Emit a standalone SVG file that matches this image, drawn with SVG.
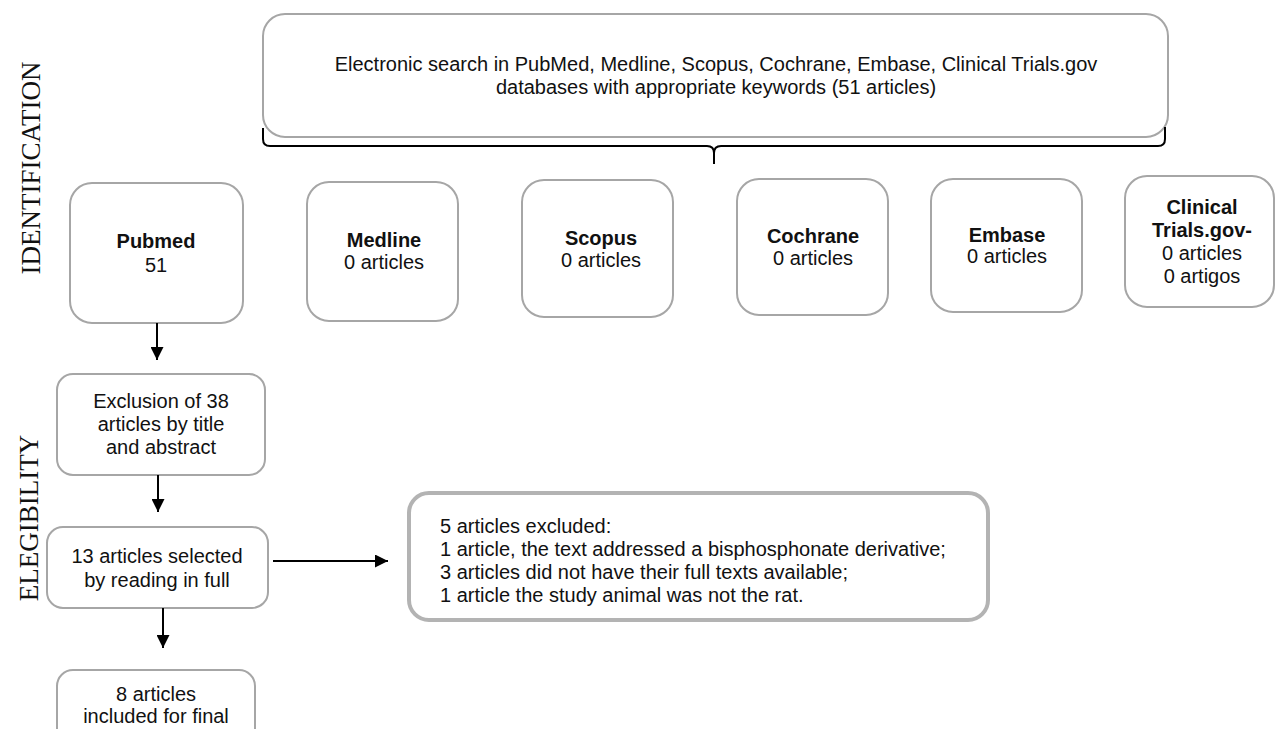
<svg xmlns="http://www.w3.org/2000/svg" width="1276" height="729" viewBox="0 0 1276 729">
<defs>
<style>
.box{fill:#fff;stroke:#a6a6a6;stroke-width:2}
.box2{fill:#fff;stroke:#b3b3b3;stroke-width:4}
.t{font-family:"Liberation Sans",Arial,sans-serif;font-size:20px;fill:#111;text-anchor:middle}
.tl{font-family:"Liberation Sans",Arial,sans-serif;font-size:20px;fill:#111}
.b{font-weight:bold}
.side{font-family:"Liberation Serif","Times New Roman",serif;font-size:27px;fill:#111;text-anchor:middle}
.conn{stroke:#000;stroke-width:2;fill:none}
</style>
<marker id="ah" viewBox="0 0 10 10" refX="10" refY="5" markerWidth="6.5" markerHeight="6.5" markerUnits="strokeWidth" orient="auto">
<path d="M0,0 L10,5 L0,10 z" fill="#000"/>
</marker>
</defs>
<rect width="1276" height="729" fill="#fff"/>

<text class="side" transform="translate(40,168) rotate(-90)">IDENTIFICATION</text>
<text class="side" transform="translate(38,518) rotate(-90)">ELEGIBILITY</text>

<g id="search">
<rect class="box" x="263" y="14" width="905" height="123" rx="22"/>
<text class="t" x="716" y="71">Electronic search in PubMed, Medline, Scopus, Cochrane, Embase, Clinical Trials.gov</text>
<text class="t" x="716" y="94">databases with appropriate keywords (51 articles)</text>
</g>

<g id="pubmed">
<rect class="box" x="70" y="183" width="173" height="140" rx="22"/>
<text class="t b" x="156" y="248">Pubmed</text>
<text class="t" x="156" y="272">51</text>
</g>
<g id="medline">
<rect class="box" x="307" y="182" width="151" height="139" rx="22"/>
<text class="t b" x="384" y="247">Medline</text>
<text class="t" x="384" y="269">0 articles</text>
</g>
<g id="scopus">
<rect class="box" x="522" y="180" width="151" height="137" rx="22"/>
<text class="t b" x="601" y="245">Scopus</text>
<text class="t" x="601" y="267">0 articles</text>
</g>
<g id="cochrane">
<rect class="box" x="737" y="179" width="151" height="136" rx="22"/>
<text class="t b" x="813" y="243">Cochrane</text>
<text class="t" x="813" y="265">0 articles</text>
</g>
<g id="embase">
<rect class="box" x="931" y="179" width="151" height="133" rx="22"/>
<text class="t b" x="1007" y="242">Embase</text>
<text class="t" x="1007" y="263">0 articles</text>
</g>
<g id="clinical">
<rect class="box" x="1125" y="176" width="149" height="131" rx="22"/>
<text class="t b" x="1202" y="214">Clinical</text>
<text class="t b" x="1202" y="237">Trials.gov-</text>
<text class="t" x="1202" y="260">0 articles</text>
<text class="t" x="1202" y="283">0 artigos</text>
</g>

<g id="exclusion">
<rect class="box" x="57" y="374" width="208" height="101" rx="16"/>
<text class="t" x="161" y="408">Exclusion of 38</text>
<text class="t" x="161" y="431">articles by title</text>
<text class="t" x="161" y="454">and abstract</text>
</g>
<g id="selected">
<rect class="box" x="47" y="527" width="221" height="81" rx="16"/>
<text class="t" x="157" y="563">13 articles selected</text>
<text class="t" x="157" y="587">by reading in full</text>
</g>
<g id="excluded5">
<rect class="box2" x="409" y="493" width="579" height="127" rx="20"/>
<text class="tl" x="440" y="533">5 articles excluded:</text>
<text class="tl" x="440" y="556">1 article, the text addressed a bisphosphonate derivative;</text>
<text class="tl" x="440" y="579">3 articles did not have their full texts available;</text>
<text class="tl" x="440" y="602">1 article the study animal was not the rat.</text>
</g>
<g id="included">
<rect class="box" x="57" y="670" width="198" height="80" rx="16"/>
<text class="t" x="156" y="701">8 articles</text>
<text class="t" x="156" y="723">included for final</text>
</g>

<g id="connectors">
<path class="conn" d="M263,128 V139 Q263,146 270,146 H707 Q714,146 714,153 V164 M714,153 Q714,146 721,146 H1158 Q1165,146 1165,139 V127"/>
<line class="conn" x1="157" y1="323" x2="157" y2="360" marker-end="url(#ah)"/>
<line class="conn" x1="158" y1="475" x2="158" y2="512" marker-end="url(#ah)"/>
<line class="conn" x1="273" y1="561" x2="388" y2="561" marker-end="url(#ah)"/>
<line class="conn" x1="163" y1="608" x2="163" y2="648" marker-end="url(#ah)"/>
</g>
</svg>
